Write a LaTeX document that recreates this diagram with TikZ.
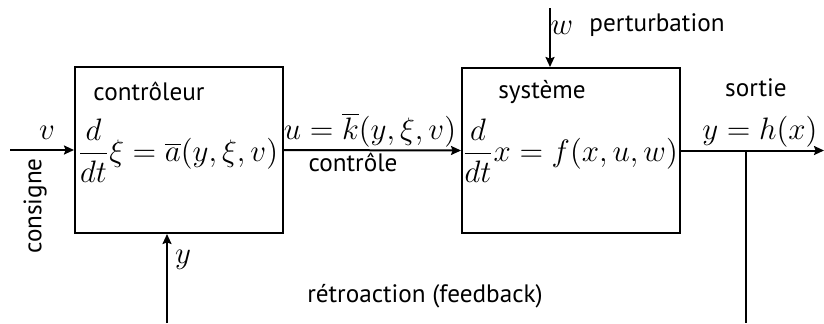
\RequirePackage{fix-cm}
\documentclass[tikz,border=0pt]{standalone}
\usepackage{amsmath}
\usepackage{fontspec}
\setsansfont{PT Sans}
\usetikzlibrary{arrows.meta,positioning}

\begin{document}
\begin{tikzpicture}[x=0.5pt,y=-0.5pt,line width=1pt,
  >={Stealth[length=5pt,width=4.5pt,inset=0.8pt]},
  blk/.style={draw,rectangle,inner sep=0pt},
  lbl/.style={font=\sffamily\fontsize{12.6}{14}\selectfont,inner sep=0pt},
  eq/.style={font=\fontsize{15.5}{17}\selectfont,inner sep=0pt}]
  \useasboundingbox (0,0) rectangle (824,323);
  % blocs
  \node[blk,minimum width=104pt,minimum height=83pt] (ctrl) at (179,150) {};
  \node[blk,minimum width=109pt,minimum height=82.5pt] (sys) at (571,150.5) {};
  \node[lbl] (nctrl) at (149,91) {contrôleur};
  \node[lbl] (nsys) at (542,92) {système};
  \node[eq] (eqc) at (178,151) {$\displaystyle\frac{d}{dt}\xi=\overline{a}(y,\xi,v)$};
  \node[eq] (eqs) at (570,151) {$\displaystyle\frac{d}{dt}x=f(x,u,w)$};
  % entrees et sorties
  \coordinate (in) at (10,150);
  \coordinate (out) at (824,150.5);
  \coordinate (jn) at (746,150.5);
  \coordinate (fb1) at (746,323);
  \coordinate (fb2) at (167,323);
  \coordinate (pert) at (550,8);
  \draw[->] (in) -- (ctrl.west);
  \draw[->] (ctrl.east) -- (sys.west);
  \draw[->] (sys.east) -- (out);
  \draw (jn) -- (fb1);
  \draw[->] (fb2) -- (fb2 |- ctrl.south);
  \draw[->] (pert) -- (pert |- sys.north);
  % etiquettes
  \node[eq] (lv) at (47,133) {$v$};
  \node[lbl,rotate=90] (lcons) at (35,206) {consigne};
  \node[eq] (lu) at (370,130) {$u=\overline{k}(y,\xi,v)$};
  \node[lbl] (lcont) at (353,162) {contrôle};
  \node[eq] (lw) at (562,28) {$w$};
  \node[lbl] (lpert) at (657,25) {perturbation};
  \node[lbl] (lsort) at (756,88) {sortie};
  \node[eq] (lh) at (760,132) {$y=h(x)$};
  \node[eq] (ly) at (183,260) {$y$};
  \node[lbl] (lfb) at (425,296) {rétroaction (feedback)};
\end{tikzpicture}
\end{document}
